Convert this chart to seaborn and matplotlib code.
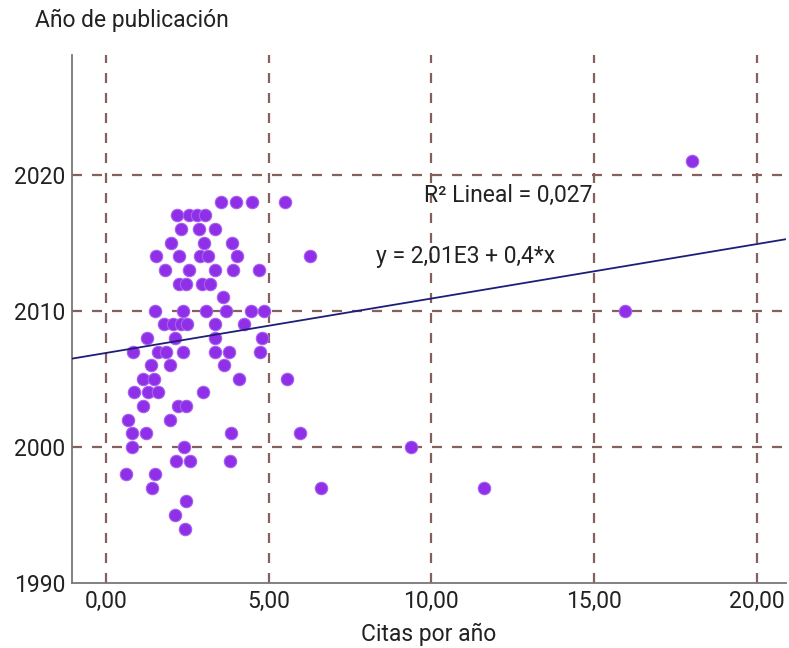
import numpy as np
import pandas as pd
import matplotlib
matplotlib.use("Agg")
import matplotlib.pyplot as plt
import seaborn as sns

# citas por año / año de publicación (row by row)
citas = [
    3.55, 4.0, 4.5, 5.5,                        # 2018
    2.2, 2.55, 2.8, 3.05,                       # 2017
    2.32, 2.85, 3.34,                           # 2016
    2.01, 3.03, 3.88,                           # 2015
    1.53, 2.24, 2.88, 3.13, 4.02, 6.26,         # 2014
    1.81, 2.55, 3.34, 3.9, 4.7,                 # 2013
    2.25, 2.47, 2.96, 3.19,                     # 2012
    3.59,                                       # 2011
    1.52, 2.37, 3.08, 3.69, 4.45, 4.85, 15.95,  # 2010
    1.8, 2.05, 2.3, 2.5, 3.35, 4.25,            # 2009
    1.25, 2.11, 3.34, 4.8,                      # 2008
    0.84, 1.6, 1.86, 2.37, 3.34, 3.78, 4.75,    # 2007
    1.4, 1.96, 3.64,                            # 2006
    1.13, 1.48, 4.08, 5.55,                     # 2005
    0.86, 1.3, 1.6, 2.97,                       # 2004
    1.14, 2.21, 2.45,                           # 2003
    0.68, 1.98,                                 # 2002
    0.8, 1.23, 3.84, 5.95,                      # 2001
    0.79, 2.39, 9.37,                           # 2000
    2.14, 2.59, 3.82,                           # 1999
    0.62, 1.5,                                  # 1998
    1.43, 6.61, 11.63,                          # 1997
    2.45,                                       # 1996
    2.11,                                       # 1995
    2.42,                                       # 1994
    18.02,                                      # 2021
]
anios = (
    [2018] * 4 + [2017] * 4 + [2016] * 3 + [2015] * 3 + [2014] * 6 + [2013] * 5
    + [2012] * 4 + [2011] * 1 + [2010] * 7 + [2009] * 6 + [2008] * 4 + [2007] * 7
    + [2006] * 3 + [2005] * 4 + [2004] * 4 + [2003] * 3 + [2002] * 2 + [2001] * 4
    + [2000] * 3 + [1999] * 3 + [1998] * 2 + [1997] * 3 + [1996, 1995, 1994, 2021]
)

# fit line as printed on the chart
intercepto = 2006.9
pendiente = 0.4
r2_texto = "R² Lineal = 0,027"
ecuacion_texto = "y = 2,01E3 + 0,4*x"

x_ticks = [0, 5, 10, 15, 20]
x_tick_labels = ["0,00", "5,00", "10,00", "15,00", "20,00"]
y_ticks = [1990, 2000, 2010, 2020]

df = pd.DataFrame({"citas": citas, "anio": anios})

sns.set_style("white")
plt.rcParams["font.family"] = ["Roboto", "DejaVu Sans"]

fig = plt.figure(figsize=(7.89, 6.48), dpi=100)
ax = fig.add_axes([0.0913, 0.1003, 0.905, 0.815])

grid_col = "#86605c"
for xv in x_ticks:
    ax.axvline(xv, color=grid_col, lw=1.6, ls=(0, (4.5, 4.5)), zorder=1)
for yv in y_ticks[1:]:
    ax.axhline(yv, color=grid_col, lw=1.6, ls=(0, (4.5, 4.5)), zorder=1)

sns.scatterplot(data=df, x="citas", y="anio", ax=ax, s=80,
                color="#8f2fe8", edgecolor="#a860f0", linewidth=0.8, zorder=3)

xs = np.array([-1.2, 21.5])
ax.plot(xs, intercepto + pendiente * xs, color="#1e1e78", lw=1.3, zorder=4)

ax.text(12.37, 2018.5, r2_texto, ha="center", va="center", fontsize=16.5, color="#222222")
ax.text(11.06, 2014.0, ecuacion_texto, ha="center", va="center", fontsize=16.5, color="#222222")

ax.set_xlim(-1.04, 20.9)
ax.set_ylim(1990, 2028.8)
ax.set_xticks(x_ticks)
ax.set_xticklabels(x_tick_labels)
ax.set_yticks(y_ticks)
ax.tick_params(length=0, labelsize=16.5, colors="#222222", pad=5)

for side in ["top", "right"]:
    ax.spines[side].set_visible(False)
for side in ["left", "bottom"]:
    ax.spines[side].set_color("#777777")
    ax.spines[side].set_linewidth(1.3)

ax.set_xlabel("Citas por año", fontsize=16.5, color="#222222", labelpad=7)
ax.set_ylabel("")
fig.text(0.044, 0.968, "Año de publicación", fontsize=16.5, color="#222222", va="center")

fig.savefig("out.png", dpi=100)
